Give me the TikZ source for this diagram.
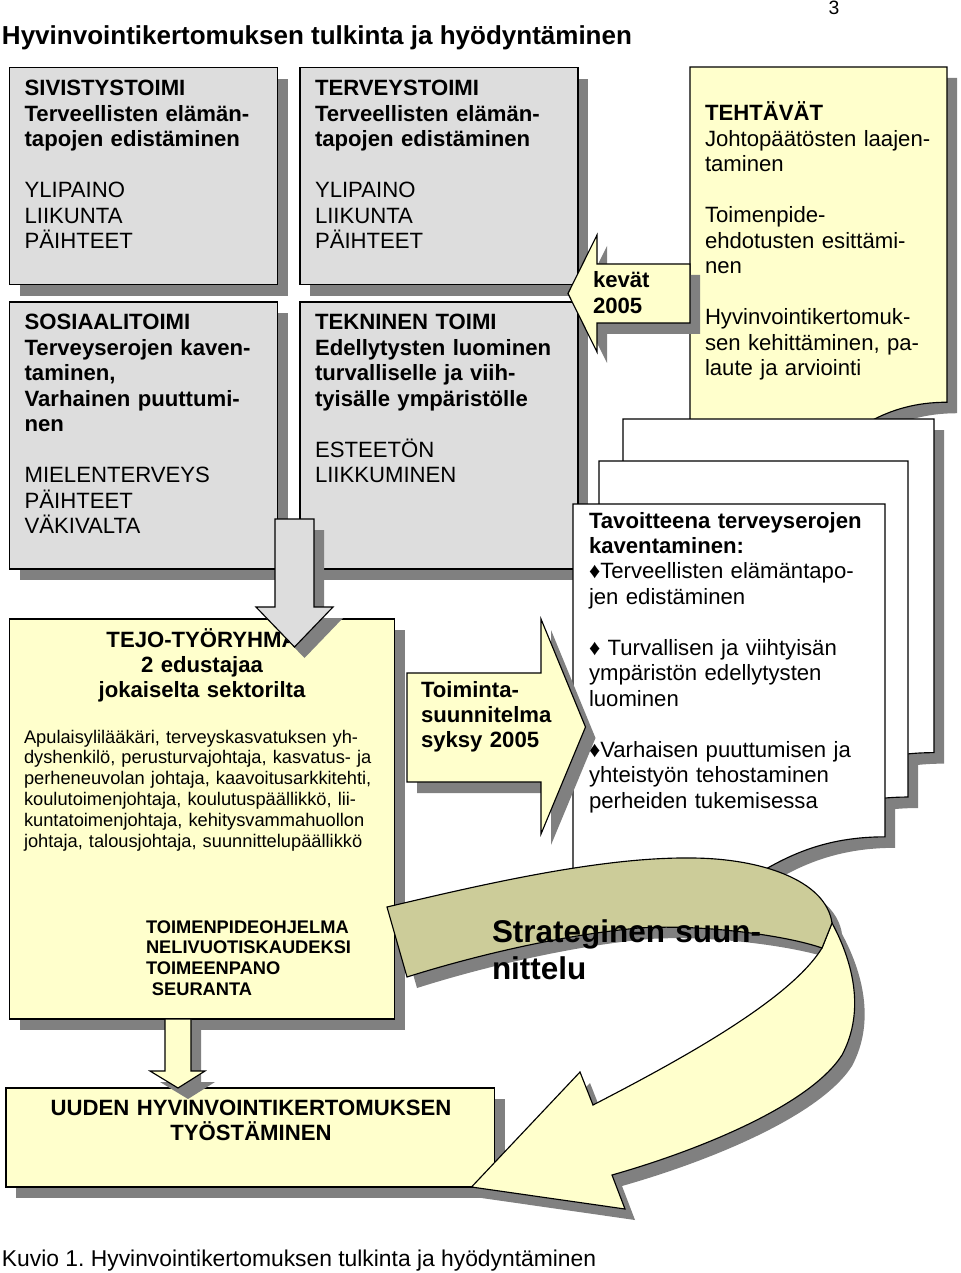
\documentclass[tikz,border=0pt]{standalone}
\usepackage{fontspec}
\setmainfont{Liberation Sans}
\usetikzlibrary{shadows}
\definecolor{boxgray}{RGB}{221,221,221}
\definecolor{paleyellow}{RGB}{255,255,204}
\definecolor{ribbongreen}{RGB}{204,204,153}
\definecolor{shadowgray}{RGB}{128,128,128}
\newcommand{\sheetpath}[4]{(#1,#2) -- ({#1+#3},#2) -- ({#1+#3},{#2+0.802*#4}) .. controls ({#1+0.5*#3},{#2+0.802*#4}) and ({#1+0.5*#3},{#2+1.107*#4}) .. (#1,{#2+0.934*#4}) -- cycle}
\newcommand{\dia}{{\fontsize{12.6}{12.6}\selectfont ♦}}

\begin{document}
\begin{tikzpicture}[x=0.02cm,y=-0.02cm]
		% formats
		\tikzstyle{every node}=[inner sep=0pt, outer sep=0pt]
		\tikzstyle{boxshadow} = [drop shadow={shadow xshift=0.2cm, shadow yshift=-0.22cm, fill=shadowgray, opacity=1}]
		\tikzstyle{graybox} = [draw, line width=0.65pt, fill=boxgray, anchor=north west, boxshadow]
		\tikzstyle{yellowbox} = [draw, line width=0.65pt, fill=paleyellow, anchor=north west, boxshadow]
		\tikzstyle{blockarrow} = [draw, line width=0.65pt, line join=miter, boxshadow]
		\tikzstyle{sheet} = [draw, line width=0.65pt]
		\tikzstyle{txt} = [anchor=base west, align=left, font=\fontsize{12.6}{14.5}\selectfont]
		\tikzstyle{smalltxt} = [anchor=base west, align=left, font=\fontsize{10.4}{11.9}\selectfont]
		\useasboundingbox (0,0) rectangle (960,1273);
		% title
		\node [anchor=base west, font=\fontsize{14.8}{17}\selectfont\bfseries] (title) at (2,45) {Hyvinvointikertomuksen tulkinta ja hyödyntäminen};
		\node [anchor=base, font=\fontsize{11}{13}\selectfont] (pagenum) at (834,15) {3};
		% sectors
		\node [graybox, minimum width=5.36cm, minimum height=4.34cm] (sivis) at (9.6,67.7) {};
		\node [txt, text width=5cm] (sivistxt) at ([shift={(15,28)}]sivis.north west) {{\bfseries SIVISTYSTOIMI\\Terveellisten elämän-\\tapojen edistäminen}\\[14.5pt]YLIPAINO\\LIIKUNTA\\PÄIHTEET};
		\node [graybox, minimum width=5.56cm, minimum height=4.34cm] (terveys) at (300,67.7) {};
		\node [txt, text width=5.2cm] (terveystxt) at ([shift={(15,28)}]terveys.north west) {{\bfseries TERVEYSTOIMI\\Terveellisten elämän-\\tapojen edistäminen}\\[14.5pt]YLIPAINO\\LIIKUNTA\\PÄIHTEET};
		\node [graybox, minimum width=5.36cm, minimum height=5.34cm] (sosiaali) at (9.6,302) {};
		\node [txt, text width=5cm] (sosiaalitxt) at ([shift={(15,28)}]sosiaali.north west) {{\bfseries SOSIAALITOIMI\\Terveyserojen kaven-\\taminen,\\Varhainen puuttumi-\\nen}\\[14.5pt]MIELENTERVEYS\\PÄIHTEET\\VÄKIVALTA};
		\node [graybox, minimum width=5.56cm, minimum height=5.34cm] (tekninen) at (300,302) {};
		\node [txt, text width=5.2cm] (tekninentxt) at ([shift={(15,28)}]tekninen.north west) {{\bfseries TEKNINEN TOIMI\\Edellytysten luominen\\turvalliselle ja viih-\\tyisälle ympäristölle}\\[14.5pt]ESTEETÖN\\LIIKKUMINEN};
		% tasks
		\fill [shadowgray, shift={(10,11)}] \sheetpath{690}{67}{257}{418};
		\filldraw [sheet, fill=paleyellow] \sheetpath{690}{67}{257}{418};
		\node [txt, text width=4.8cm] (tehtavat) at (705,121) {{\bfseries TEHTÄVÄT}\\Johtopäätösten laajen-\\taminen\\[14.5pt]Toimenpide-\\ehdotusten esittämi-\\nen\\[14.5pt]Hyvinvointikertomuk-\\sen kehittäminen, pa-\\laute ja arviointi};
		% goals
		\fill [shadowgray, shift={(10,11)}] \sheetpath{623}{419}{311}{416} \sheetpath{599}{461}{309}{419} \sheetpath{573}{504}{312}{415};
		\filldraw [sheet, fill=white] \sheetpath{623}{419}{311}{416};
		\filldraw [sheet, fill=white] \sheetpath{599}{461}{309}{419};
		\filldraw [sheet, fill=white] \sheetpath{573}{504}{312}{415};
		\node [txt, text width=5.8cm] (tavoite) at (589,528) {{\bfseries Tavoitteena terveyserojen\\kaventaminen:}\\\dia Terveellisten elämäntapo-\\jen edistäminen\\[14.5pt]\dia\ Turvallisen ja viihtyisän\\ympäristön edellytysten\\luominen\\[14.5pt]\dia Varhaisen puuttumisen ja\\yhteistyön tehostaminen\\perheiden tukemisessa};
		% spring arrow
		\filldraw [blockarrow, fill=paleyellow] (690,264) -- (597,264) -- (597,235) -- (568,293.5) -- (597,352) -- (597,323) -- (690,323) -- cycle;
		\node [txt, font=\fontsize{12.6}{14.5}\selectfont\bfseries, text width=1.8cm] (kevat) at (593,288) {kevät\\2005};
		% working group
		\node [yellowbox, minimum width=7.7cm, minimum height=8cm] (tejo) at (9.6,619) {};
		\node [anchor=base, align=center, text width=7cm, font=\fontsize{12.6}{14.5}\selectfont\bfseries] (tejohead) at (202,647) {TEJO-TYÖRYHMÄ\\2 edustajaa\\jokaiselta sektorilta};
		\node [smalltxt, text width=7.4cm] (tejomembers) at (24,743) {Apulaisylilääkäri, terveyskasvatuksen yh-\\dyshenkilö, perusturvajohtaja, kasvatus- ja\\perheneuvolan johtaja, kaavoitusarkkitehti,\\koulutoimenjohtaja, koulutuspäällikkö, lii-\\kuntatoimenjohtaja, kehitysvammahuollon\\johtaja, talousjohtaja, suunnittelupäällikkö};
		\node [smalltxt, font=\fontsize{10.4}{11.9}\selectfont\bfseries, text width=5cm] (ohjelma) at (146,933) {TOIMENPIDEOHJELMA\\NELIVUOTISKAUDEKSI\\TOIMEENPANO\\\hspace{3.4pt}SEURANTA};
		\filldraw [blockarrow, fill=boxgray] (275,519) -- (314,519) -- (314,607) -- (333,607) -- (294.5,647) -- (256,607) -- (275,607) -- cycle;
		% action plan arrow
		\filldraw [blockarrow, fill=paleyellow] (407,673) -- (541,673) -- (541,619) -- (585.5,727) -- (541,834) -- (541,782) -- (407,782) -- cycle;
		\node [txt, font=\fontsize{12.6}{14.5}\selectfont\bfseries, text width=2.6cm] (toiminta) at (421,697) {Toiminta-\\suunnitelma\\syksy 2005};
		% new report
		\node [yellowbox, minimum width=9.78cm, minimum height=1.98cm] (uuden) at (6,1088) {};
		\node [anchor=base, align=center, text width=9.5cm, font=\fontsize{12.6}{14.5}\selectfont\bfseries] (uudentxt) at (251,1115) {UUDEN HYVINVOINTIKERTOMUKSEN\\TYÖSTÄMINEN};
		\filldraw [blockarrow, fill=paleyellow] (165,1019) -- (191,1019) -- (191,1071) -- (205,1071) -- (178,1088) -- (150,1071) -- (165,1071) -- cycle;
		% strategy ribbon
		\fill [shadowgray, shift={(10,11)}] (387,907) .. controls (480,885) and (600,857) .. (690,858) .. controls (760,858) and (826,880) .. (832,923) .. controls (852,960) and (866,1010) .. (842,1055) .. controls (810,1105) and (700,1150) .. (612,1175) -- (625,1209) -- (471.5,1187) -- (580,1072) -- (593,1105) .. controls (680,1060) and (790,1000) .. (822,948) .. controls (785,935) and (700,924) .. (639,928) .. controls (560,935) and (470,957) .. (407,977) -- cycle;
		\filldraw [sheet, fill=paleyellow] (832,923) .. controls (852,960) and (866,1010) .. (842,1055) .. controls (810,1105) and (700,1150) .. (612,1175) -- (625,1209) -- (471.5,1187) -- (580,1072) -- (593,1105) .. controls (680,1060) and (790,1000) .. (822,948) -- cycle;
		\filldraw [sheet, fill=ribbongreen] (387,907) .. controls (480,885) and (600,857) .. (690,858) .. controls (760,858) and (826,880) .. (832,923) -- (822,948) .. controls (785,935) and (700,924) .. (639,928) .. controls (560,935) and (470,957) .. (407,977) -- cycle;
		\node [anchor=base west, align=left, text width=6.5cm, font=\fontsize{17.9}{21.5}\selectfont\bfseries] (strategia) at (492,942) {Strateginen suun-\\nittelu};
		% caption
		\node [anchor=base west, font=\fontsize{13}{16}\selectfont] (caption) at (2,1266) {Kuvio 1.\ Hyvinvointikertomuksen tulkinta ja hyödyntäminen};
\end{tikzpicture}
\end{document}
